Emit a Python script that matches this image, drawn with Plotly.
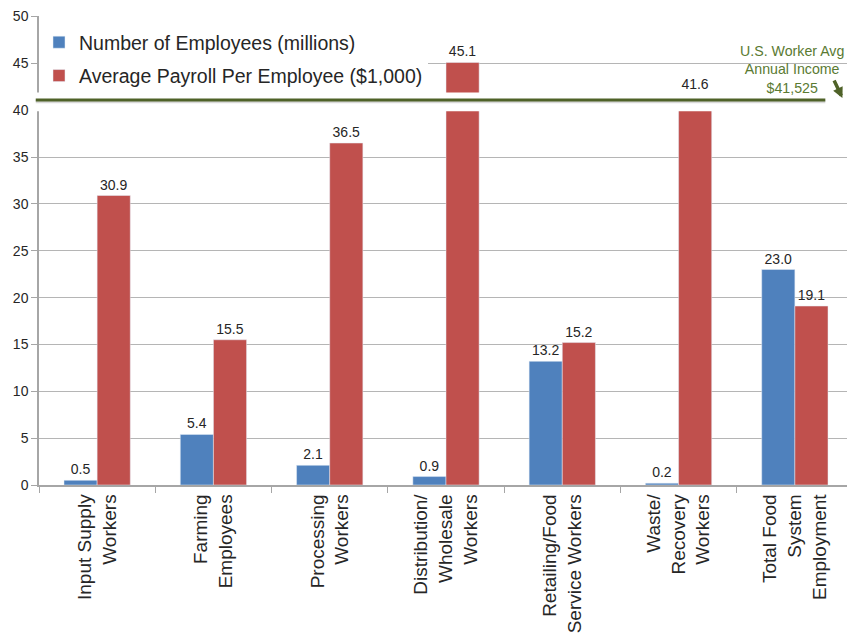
import plotly.graph_objects as go

categories = ["Input Supply<br>Workers", "Farming<br>Employees", "Processing<br>Workers",
              "Distribution/<br>Wholesale<br>Workers", "Retailing/Food<br>Service Workers",
              "Waste/<br>Recovery<br>Workers", "Total Food<br>System<br>Employment"]
employees = [0.5, 5.4, 2.1, 0.9, 13.2, 0.2, 23.0]
payroll = [30.9, 15.5, 36.5, 45.1, 15.2, 41.6, 19.1]
us_avg_income = 41.1  # where the reference line sits on the axis

font_family = "Arial, Liberation Sans, sans-serif"
green = "#4F6228"

fig = go.Figure()
fig.add_trace(go.Bar(x=categories, y=employees, name="Number of Employees (millions)",
                     marker=dict(color="#4F81BD"), legendgroup="a",
                     text=[f"{v:.1f}" for v in employees], textposition="outside",
                     textfont=dict(size=14, color="#262626"), cliponaxis=False))
fig.add_trace(go.Bar(x=categories, y=payroll, name="Average Payroll Per Employee ($1,000)",
                     marker=dict(color="#C0504D"), legendgroup="b",
                     text=[f"{v:.1f}" for v in payroll], textposition="outside",
                     textfont=dict(size=14, color="#262626"), cliponaxis=False))

# white band that cuts through the tall bars, with the green average line on top
fig.add_shape(type="rect", xref="paper", yref="y", x0=-0.01, x1=1.0,
              y0=39.9, y1=41.9, fillcolor="white", line_width=0, layer="above")
fig.add_shape(type="line", xref="paper", yref="y", x0=-0.004, x1=0.966,
              y0=us_avg_income - 0.2, y1=us_avg_income - 0.2,
              line=dict(color="rgba(0,0,0,0.15)", width=3), layer="above")
fig.add_shape(type="line", xref="paper", yref="y", x0=-0.004, x1=0.966,
              y0=us_avg_income, y1=us_avg_income,
              line=dict(color=green, width=3), layer="above")

fig.add_annotation(xref="paper", yref="y", x=0.925, y=44.3, xanchor="center",
                   text="U.S. Worker Avg<br>Annual Income<br>$41,525",
                   showarrow=False, align="center",
                   font=dict(size=14.2, color="#5A7A32", family=font_family))
fig.add_annotation(xref="paper", yref="y", x=0.987, y=41.3, ax=-9, ay=-19,
                   showarrow=True, arrowhead=2, arrowsize=0.6, arrowwidth=3.5,
                   arrowcolor=green, text="")

# page body adds an 8px offset, so margins are shifted to compensate
fig.update_layout(
    width=855, height=637,
    margin=dict(l=31, r=10, t=8, b=160),
    plot_bgcolor="white", paper_bgcolor="white",
    font=dict(family=font_family, color="#262626"),
    barmode="group", bargap=0.43, bargroupgap=0,
    showlegend=True,
    legend=dict(x=0.0, y=0.985, xanchor="left", yanchor="top",
                bgcolor="white", font=dict(size=19.5),
                itemwidth=30, traceorder="grouped", tracegroupgap=5),
)
fig.update_xaxes(showline=True, linecolor="#A6A6A6", linewidth=1.5, automargin=False,
                 ticks="outside", tickson="boundaries", ticklen=6, tickcolor="#A6A6A6",
                 tickangle=-90, tickfont=dict(size=19, color="#262626"))
fig.update_yaxes(range=[0, 50.06], tickvals=[0, 5, 10, 15, 20, 25, 30, 35, 40, 45, 50],
                 showline=True, linecolor="#A6A6A6", linewidth=1.5,
                 ticks="outside", ticklen=6, tickcolor="#A6A6A6", automargin=False,
                 showgrid=True, gridcolor="#B5B5B5", gridwidth=1,
                 tickfont=dict(size=14, color="#262626"), zeroline=False)

fig.write_html("out.html")
